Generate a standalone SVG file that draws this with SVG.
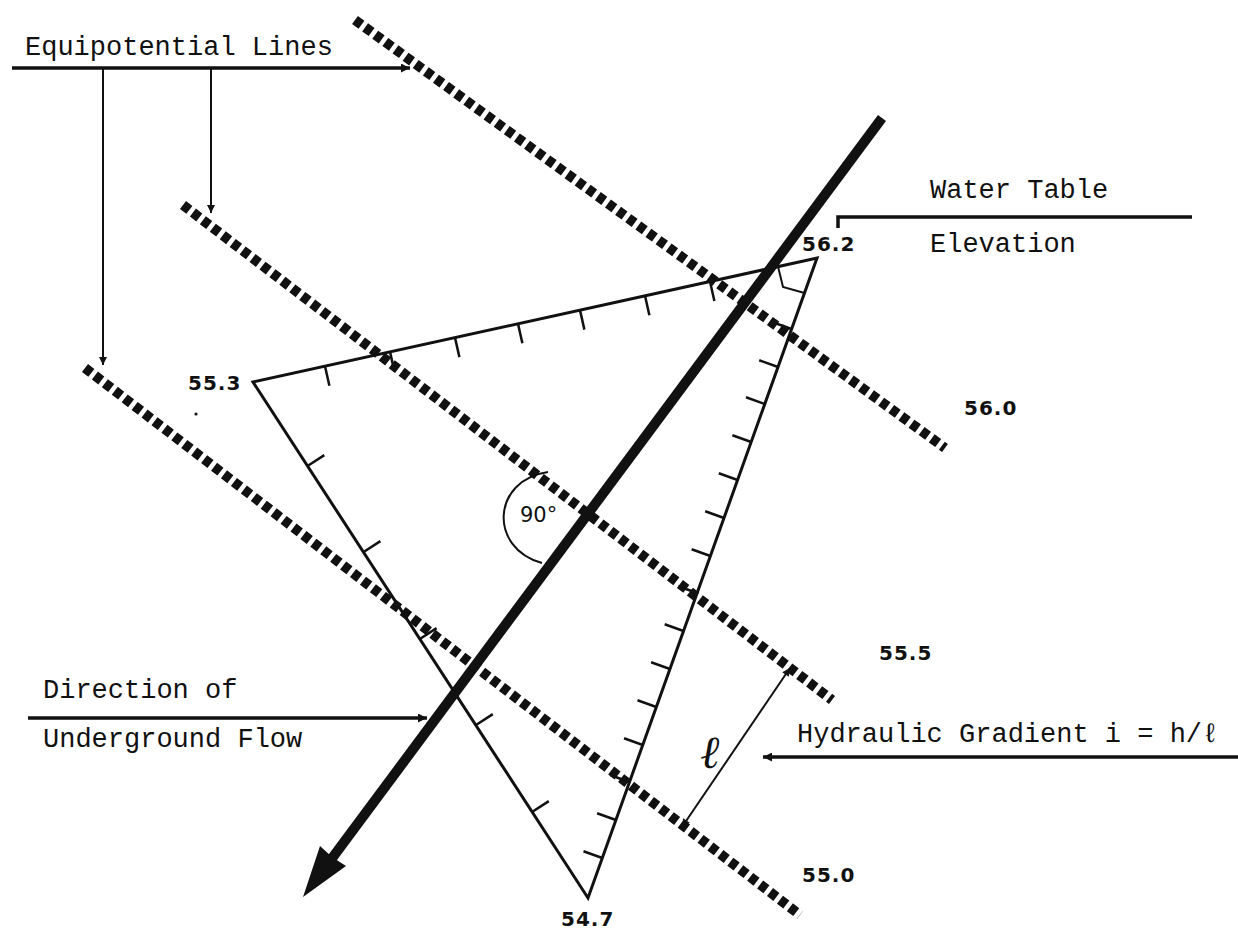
<svg xmlns="http://www.w3.org/2000/svg" width="1238" height="931" viewBox="0 0 1238 931">
<defs>
<style>
.mono{font-family:"Liberation Mono","Courier New",monospace;font-size:27px;fill:#111}
.num{font-family:"DejaVu Sans","Liberation Sans",sans-serif;font-size:20px;font-weight:bold;letter-spacing:1px;fill:#111}
.equi{fill:none;stroke:#111;stroke-width:10;stroke-dasharray:8 4.5}
.tri{fill:none;stroke:#111;stroke-width:3;stroke-linejoin:miter}
.tick{stroke:#111;stroke-width:2.5}
.lead{fill:none;stroke:#111;stroke-width:3.5}
.thin{fill:none;stroke:#111;stroke-width:2}
</style>
<marker id="ah" viewBox="0 0 10 10" refX="10" refY="5" markerUnits="userSpaceOnUse" markerWidth="14" markerHeight="9" orient="auto-start-reverse">
<path d="M0,0 L10,5 L0,10 z" fill="#111"/>
</marker>
<marker id="ahs" viewBox="0 0 10 10" refX="10" refY="5" markerUnits="userSpaceOnUse" markerWidth="11" markerHeight="8" orient="auto-start-reverse">
<path d="M0,0 L10,5 L0,10 z" fill="#111"/>
</marker>
</defs>
<rect width="1238" height="931" fill="#fff"/>

<g id="triangle">
<polygon class="tri" points="253,382 817,258 588,898"/>
<path class="thin" d="M778,266.6 L783,287 L804.5,293"/>
<g id="ticks-top" class="tick">
<line x1="325" y1="366.2" x2="329.4" y2="385.7"/>
<line x1="390" y1="351.9" x2="394.4" y2="371.4"/>
<line x1="455" y1="337.6" x2="459.4" y2="357.1"/>
<line x1="518" y1="323.7" x2="522.4" y2="343.2"/>
<line x1="580" y1="310.1" x2="584.4" y2="329.6"/>
<line x1="645" y1="295.8" x2="649.4" y2="315.3"/>
<line x1="710" y1="281.5" x2="714.4" y2="301.0"/>
</g>
<g id="ticks-right" class="tick">
<line x1="602.3" y1="858" x2="583.5" y2="851.3"/>
<line x1="615.9" y1="820" x2="597.1" y2="813.3"/>
<line x1="629.5" y1="782" x2="610.7" y2="775.3"/>
<line x1="642.8" y1="745" x2="624" y2="738.3"/>
<line x1="656.3" y1="707" x2="637.5" y2="700.3"/>
<line x1="669.9" y1="669" x2="651.1" y2="662.3"/>
<line x1="683.5" y1="631" x2="664.7" y2="624.3"/>
<line x1="697.1" y1="593" x2="678.3" y2="586.3"/>
<line x1="710.4" y1="556" x2="691.6" y2="549.3"/>
<line x1="724" y1="518" x2="705.2" y2="511.3"/>
<line x1="737.6" y1="480" x2="718.8" y2="473.3"/>
<line x1="751.2" y1="442" x2="732.4" y2="435.3"/>
<line x1="764.8" y1="404" x2="746" y2="397.3"/>
<line x1="778" y1="367" x2="759.2" y2="360.3"/>
<line x1="791.6" y1="329" x2="772.8" y2="322.3"/>
</g>
<g id="ticks-left" class="tick">
<line x1="307.5" y1="466" x2="324.3" y2="455.1"/>
<line x1="363.6" y1="552" x2="380.4" y2="541.1"/>
<line x1="419.8" y1="639" x2="436.6" y2="628.1"/>
<line x1="476" y1="725" x2="492.8" y2="714.1"/>
<line x1="532" y1="812" x2="548.8" y2="801.1"/>
</g>
</g>

<g id="equipotential-56-0"><line class="equi" x1="355" y1="20" x2="945" y2="448"/></g>
<g id="equipotential-55-5"><line class="equi" x1="183" y1="205" x2="832" y2="700"/></g>
<g id="equipotential-55-0"><line class="equi" x1="85" y1="368" x2="800" y2="915"/></g>

<g id="right-angle">
<path class="thin" d="M548,472 C492,480 488,548 542,563"/>
<text x="520" y="522" font-family="DejaVu Sans,Liberation Sans,sans-serif" font-size="21" fill="#111">90°</text>
</g>

<g id="flow-arrow">
<line x1="882" y1="118" x2="330" y2="861" stroke="#111" stroke-width="10"/>
<polygon points="303,897 320,846 332,857 346,866" fill="#111"/>
</g>

<g id="connectors">
<line class="lead" x1="12" y1="68" x2="410" y2="68" marker-end="url(#ah)"/>
<line class="thin" x1="103" y1="68" x2="103" y2="365" marker-end="url(#ahs)"/>
<line class="thin" x1="211" y1="68" x2="211" y2="213" marker-end="url(#ahs)"/>
<path class="lead" d="M1192,217 L838,217 L838,228"/>
<line class="lead" x1="28" y1="718" x2="427" y2="718" marker-end="url(#ah)"/>
<line class="lead" x1="1238" y1="757" x2="763" y2="757" marker-end="url(#ah)"/>
<line class="thin" x1="682" y1="827" x2="790" y2="668" marker-start="url(#ahs)" marker-end="url(#ahs)"/>
</g>

<g id="label-equipotential"><text class="mono" x="25" y="55">Equipotential Lines</text></g>
<g id="label-water-table"><text class="mono" x="930" y="198">Water Table</text><text class="mono" x="930" y="252">Elevation</text></g>
<g id="label-direction"><text class="mono" x="43" y="698">Direction of</text><text class="mono" x="43" y="747">Underground Flow</text></g>
<g id="label-gradient"><text class="mono" x="797" y="742">Hydraulic Gradient i = h/ℓ</text></g>
<g id="label-l"><text x="700" y="768" font-family="Liberation Serif,DejaVu Serif,serif" font-style="italic" font-size="46" fill="#111">ℓ</text></g>

<g id="values">
<text class="num" x="802" y="251">56.2</text>
<text class="num" x="188" y="390">55.3</text>
<text class="num" x="964" y="415">56.0</text>
<text class="num" x="879" y="660">55.5</text>
<text class="num" x="802" y="882">55.0</text>
<text class="num" x="561" y="926">54.7</text>
</g>
<circle cx="196" cy="414" r="1.6" fill="#111"/>
</svg>
